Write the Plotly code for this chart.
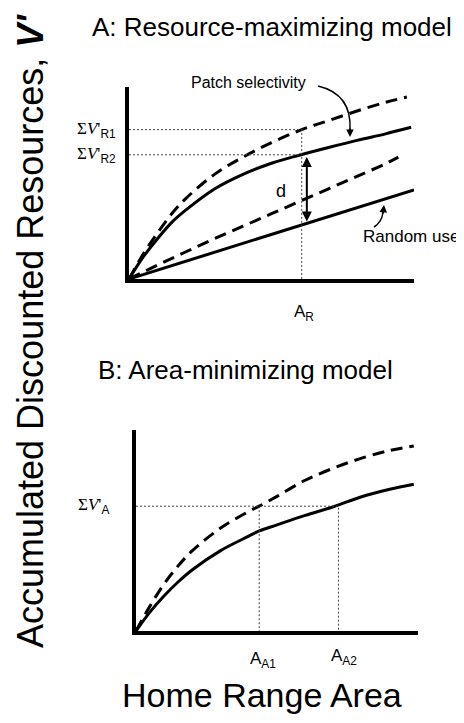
import plotly.graph_objects as go

# ---------------- data ----------------
# Panel A: resource-maximizing model (x = home range area, y = accumulated V')
xa_sel_solid = [0, 0.5, 1, 1.5, 2, 3, 4, 5, 6, 7, 8, 9, 9.9]
va_sel_solid = [0, 1.15, 2.1, 2.95, 3.6, 4.69, 5.45, 6.03, 6.46, 6.85, 7.22, 7.56, 7.9]
xa_sel_dash = [0, 0.5, 1, 1.5, 2, 3, 4, 5, 6.06, 7, 8, 9, 9.75]
va_sel_dash = [0, 1.3, 2.4, 3.4, 4.2, 5.45, 6.35, 7.1, 7.78, 8.25, 8.75, 9.2, 9.48]
xa_rand_solid = [0, 2, 4, 6, 8, 10]
va_rand_solid = [0, 0.93, 1.85, 2.77, 3.7, 4.64]
xa_rand_dash = [0, 1, 2, 3, 4, 5, 6, 7, 8, 9, 9.45]
va_rand_dash = [0, 0.72, 1.42, 2.1, 2.75, 3.4, 4.05, 4.7, 5.35, 6.0, 6.35]
a_R = 6.06
sumV_R1 = 7.78
sumV_R2 = 6.47
d_top, d_bottom, d_x = 6.35, 2.92, 6.24

# Panel B: area-minimizing model
xb = [0, 0.5, 1, 1.5, 2, 3, 4, 4.37, 5, 6, 7, 8, 9, 9.85]
vb_dash = [0, 1.25, 2.35, 3.25, 4.0, 5.12, 5.95, 6.21, 6.7, 7.5, 8.1, 8.6, 8.98, 9.2]
vb_solid = [0, 0.95, 1.75, 2.45, 3.05, 4.0, 4.72, 4.98, 5.28, 5.75, 6.18, 6.68, 7.05, 7.3]
a_A1 = 4.37
a_A2 = 7.18
sumV_A = 6.21

W, H = 464, 723
OFF = 8  # page body margin that shifts the figure inside the window
SANS = "Liberation Sans, Arial, sans-serif"
SERIF = "Liberation Serif, Times New Roman, serif"


def px(x):
    return (x - OFF) / W


def py(y):
    return 1 - (y - OFF) / H


fig = go.Figure()

solid = dict(color="black", width=3)
dashed = dict(color="black", width=3, dash="12px,7px")
dotted = dict(color="#444", width=1, dash="2px,2px")

# Panel A traces
fig.add_trace(go.Scatter(x=xa_sel_dash, y=va_sel_dash, mode="lines", line=dashed, line_shape="spline", xaxis="x", yaxis="y"))
fig.add_trace(go.Scatter(x=xa_sel_solid, y=va_sel_solid, mode="lines", line=solid, line_shape="spline", xaxis="x", yaxis="y"))
fig.add_trace(go.Scatter(x=xa_rand_dash, y=va_rand_dash, mode="lines", line=dashed, line_shape="spline", xaxis="x", yaxis="y"))
fig.add_trace(go.Scatter(x=xa_rand_solid, y=va_rand_solid, mode="lines", line=solid, xaxis="x", yaxis="y"))
fig.add_trace(go.Scatter(x=[0, a_R, a_R], y=[sumV_R1, sumV_R1, 0], mode="lines", line=dotted, xaxis="x", yaxis="y"))
fig.add_trace(go.Scatter(x=[0, a_R], y=[sumV_R2, sumV_R2], mode="lines", line=dotted, xaxis="x", yaxis="y"))

# Panel B traces
fig.add_trace(go.Scatter(x=xb, y=vb_dash, mode="lines", line=dashed, line_shape="spline", xaxis="x2", yaxis="y2"))
fig.add_trace(go.Scatter(x=xb, y=vb_solid, mode="lines", line=solid, line_shape="spline", xaxis="x2", yaxis="y2"))
fig.add_trace(go.Scatter(x=[0, a_A2, a_A2], y=[sumV_A, sumV_A, 0], mode="lines", line=dotted, xaxis="x2", yaxis="y2"))
fig.add_trace(go.Scatter(x=[a_A1, a_A1], y=[sumV_A, 0], mode="lines", line=dotted, xaxis="x2", yaxis="y2"))

ax_common = dict(showgrid=False, zeroline=False, showticklabels=False, ticks="",
                 showline=True, linecolor="black", linewidth=4, range=[0, 10], fixedrange=True)

fig.update_layout(
    width=W, height=H, margin=dict(l=0, r=0, t=0, b=0),
    paper_bgcolor="white", plot_bgcolor="white", showlegend=False,
    xaxis=dict(domain=[px(129), px(414)], anchor="y", **ax_common),
    yaxis=dict(domain=[py(279), py(87)], anchor="x", **ax_common),
    xaxis2=dict(domain=[px(136), px(418)], anchor="y2", **ax_common),
    yaxis2=dict(domain=[py(631), py(430)], anchor="x2", **ax_common),
)


def label(text, x, y, size, family=SANS, xref="paper", yref="paper", xanchor="center", angle=0):
    return dict(text=text, x=x, y=y, xref=xref, yref=yref, xanchor=xanchor, yanchor="middle",
                textangle=angle, showarrow=False, font=dict(family=family, size=size, color="black"))


ann = []
# titles
ann.append(label("A: Resource-maximizing model", px(272), py(27), 26))
ann.append(label("B: Area-minimizing model", px(245), py(370), 26))
ann.append(label("Accumulated Discounted Resources, <i><b>V'</b></i>", px(30), py(331), 36, angle=-90))
ann.append(label("Home Range Area", px(262), py(695), 34))

sub = "<sub><span style='font-family:Liberation Sans;'>%s</span></sub>"
ann.append(label("Σ<i>V</i>'" + sub % "R1", px(118), sumV_R1, 17, family=SERIF, yref="y", xanchor="right"))
ann.append(label("Σ<i>V</i>'" + sub % "R2", px(118), sumV_R2, 17, family=SERIF, yref="y", xanchor="right"))
ann.append(label("Σ<i>V</i>'" + sub % "A", px(111), sumV_A, 17, family=SERIF, yref="y2", xanchor="right"))

ann.append(label("A<sub>R</sub>", px(304), py(313), 17))
ann.append(label("A<sub>A1</sub>", px(263), py(660), 17))
ann.append(label("A<sub>A2</sub>", px(344), py(657), 17))

ann.append(label("d", 5.33, 4.59, 18, xref="x", yref="y"))
ann.append(dict(text="", x=d_x, y=d_top, ax=d_x, ay=d_bottom, xref="x", yref="y", axref="x", ayref="y",
                showarrow=True, arrowside="end+start", arrowhead=2, arrowsize=1, arrowwidth=2, arrowcolor="black"))

ann.append(label("Patch selectivity", px(248), py(83), 16))
ann.append(label("Random use", px(411), py(236), 17))
# arrowheads for the curved leader lines
ann.append(dict(text="", x=px(350), y=py(137), xref="paper", yref="paper", ax=0, ay=-10,
                showarrow=True, arrowhead=2, arrowsize=1, arrowwidth=1.5, arrowcolor="black"))
ann.append(dict(text="", x=px(384), y=py(205), xref="paper", yref="paper", ax=-1, ay=10,
                showarrow=True, arrowhead=2, arrowsize=1, arrowwidth=1.5, arrowcolor="black"))

fig.update_layout(annotations=ann)

shapes = [
    dict(type="path", xref="paper", yref="paper",
         path="M %f,%f Q %f,%f %f,%f" % (px(318), py(86), px(352), py(94), px(350), py(130)),
         line=dict(color="black", width=1.5)),
    dict(type="path", xref="paper", yref="paper",
         path="M %f,%f Q %f,%f %f,%f" % (px(374), py(227), px(382), py(222), px(383), py(212)),
         line=dict(color="black", width=1.5)),
]
fig.update_layout(shapes=shapes)

fig.write_html("out.html")
